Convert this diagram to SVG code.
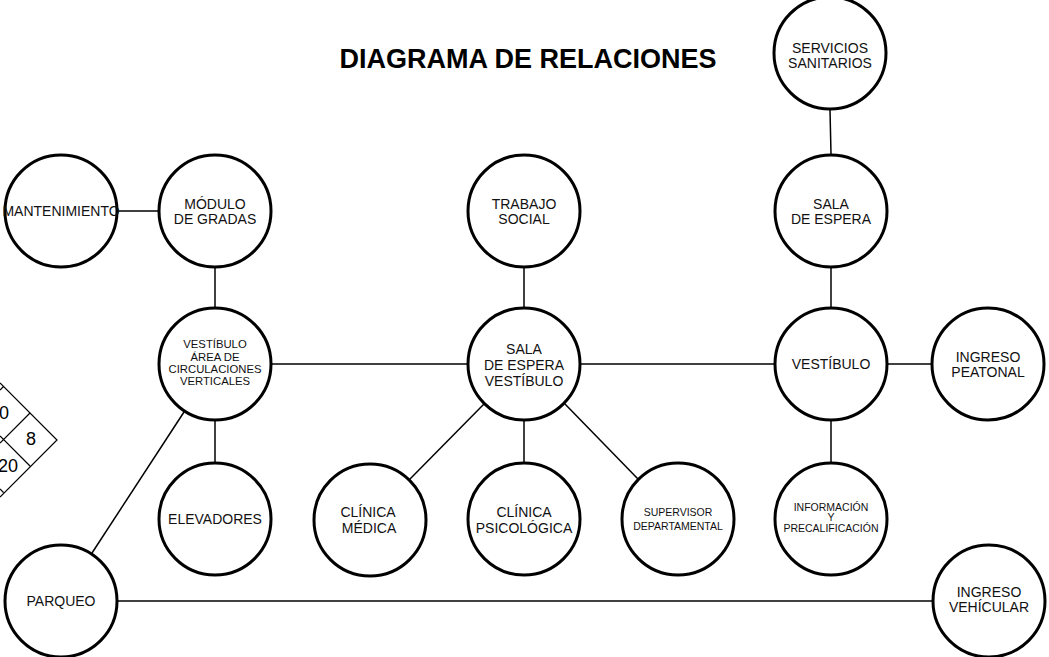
<svg xmlns="http://www.w3.org/2000/svg" width="1049" height="657" viewBox="0 0 1049 657">
<style>
.n{fill:#fff;stroke:#000;stroke-width:3}
.c{stroke:#000;stroke-width:1.5;fill:none}
.t{font-family:"Liberation Sans",Arial,sans-serif;font-size:14px;fill:#111;text-anchor:middle}
.s{font-size:11.3px}
.xs{font-size:10.5px}
.title{font-family:"Liberation Sans",Arial,sans-serif;font-size:27px;font-weight:bold;text-anchor:middle}
.g{stroke:#000;stroke-width:1.2;fill:none}
.num{font-family:"Liberation Sans",Arial,sans-serif;font-size:18px;text-anchor:middle}
</style>
<rect width="1049" height="657" fill="#fff"/>
<text class="title" x="528" y="68">DIAGRAMA DE RELACIONES</text>
<g id="matrix">
<path class="g" d="M0,383 L57,440 L0,497 M30,413 L0,443 M0,436 L30,466 M0,489 L3.5,492.5 M0,390 L3.5,386.5"/>
<text class="num" x="4" y="419">0</text>
<text class="num" x="31" y="445">8</text>
<text class="num" x="8" y="472">20</text>
</g>
<g id="connectors">
<line class="c" x1="118" y1="211" x2="158" y2="211"/>
<line class="c" x1="215" y1="268" x2="215" y2="307"/>
<line class="c" x1="272" y1="364" x2="467" y2="364"/>
<line class="c" x1="215" y1="421" x2="215" y2="462"/>
<line class="c" x1="184" y1="412" x2="92" y2="553"/>
<line class="c" x1="524" y1="268" x2="524" y2="307"/>
<line class="c" x1="581" y1="364" x2="774" y2="364"/>
<line class="c" x1="484" y1="404" x2="410" y2="479"/>
<line class="c" x1="524" y1="421" x2="524" y2="462"/>
<line class="c" x1="565" y1="404" x2="638" y2="479"/>
<line class="c" x1="830" y1="110" x2="831" y2="154"/>
<line class="c" x1="831" y1="268" x2="831" y2="307"/>
<line class="c" x1="888" y1="364" x2="931" y2="364"/>
<line class="c" x1="831" y1="421" x2="831" y2="462"/>
<line class="c" x1="118" y1="601" x2="932" y2="601"/>
</g>
<g id="mantenimiento"><circle class="n" cx="61" cy="211" r="56"/><text class="t" x="61" y="216">MANTENIMIENTO</text></g>
<g id="modulo-gradas"><circle class="n" cx="215" cy="211" r="56"/><text class="t" x="215" y="209">MÓDULO</text><text class="t" x="215" y="224">DE GRADAS</text></g>
<g id="vestibulo-area"><circle class="n" cx="215" cy="364" r="56"/><text class="t s" x="215" y="348">VESTÍBULO</text><text class="t s" x="215" y="360.5">ÁREA DE</text><text class="t s" x="215" y="373">CIRCULACIONES</text><text class="t s" x="215" y="385">VERTICALES</text></g>
<g id="elevadores"><circle class="n" cx="215" cy="519" r="56"/><text class="t" x="215" y="524">ELEVADORES</text></g>
<g id="trabajo-social"><circle class="n" cx="524" cy="211" r="56"/><text class="t" x="524" y="209">TRABAJO</text><text class="t" x="524" y="224">SOCIAL</text></g>
<g id="sala-espera-vestibulo"><circle class="n" cx="524" cy="364" r="56"/><text class="t" x="524" y="354">SALA</text><text class="t" x="524" y="370">DE ESPERA</text><text class="t" x="524" y="386">VESTÍBULO</text></g>
<g id="clinica-medica"><circle class="n" cx="370" cy="520" r="56"/><text class="t" x="368" y="517">CLÍNICA</text><text class="t" x="369" y="533">MÉDICA</text></g>
<g id="clinica-psicologica"><circle class="n" cx="524" cy="519" r="56"/><text class="t" x="524" y="517">CLÍNICA</text><text class="t" x="524" y="533">PSICOLÓGICA</text></g>
<g id="supervisor"><circle class="n" cx="678" cy="519" r="56"/><text class="t xs" x="678" y="516">SUPERVISOR</text><text class="t xs" x="678" y="530">DEPARTAMENTAL</text></g>
<g id="servicios-sanitarios"><circle class="n" cx="830" cy="53" r="56"/><text class="t" x="830" y="53">SERVICIOS</text><text class="t" x="830" y="68">SANITARIOS</text></g>
<g id="sala-espera"><circle class="n" cx="831" cy="211" r="56"/><text class="t" x="831" y="209">SALA</text><text class="t" x="831" y="224">DE ESPERA</text></g>
<g id="vestibulo"><circle class="n" cx="831" cy="364" r="56"/><text class="t" x="831" y="369">VESTÍBULO</text></g>
<g id="ingreso-peatonal"><circle class="n" cx="988" cy="364" r="56"/><text class="t" x="988" y="362">INGRESO</text><text class="t" x="988" y="377">PEATONAL</text></g>
<g id="informacion"><circle class="n" cx="831" cy="519" r="56"/><text class="t xs" x="831" y="511">INFORMACIÓN</text><text class="t xs" x="831" y="521">Y</text><text class="t xs" x="831" y="532">PRECALIFICACIÓN</text></g>
<g id="parqueo"><circle class="n" cx="61" cy="601" r="56"/><text class="t" x="61" y="606">PARQUEO</text></g>
<g id="ingreso-vehicular"><circle class="n" cx="989" cy="601" r="56"/><text class="t" x="989" y="597">INGRESO</text><text class="t" x="989" y="612">VEHÍCULAR</text></g>
</svg>
